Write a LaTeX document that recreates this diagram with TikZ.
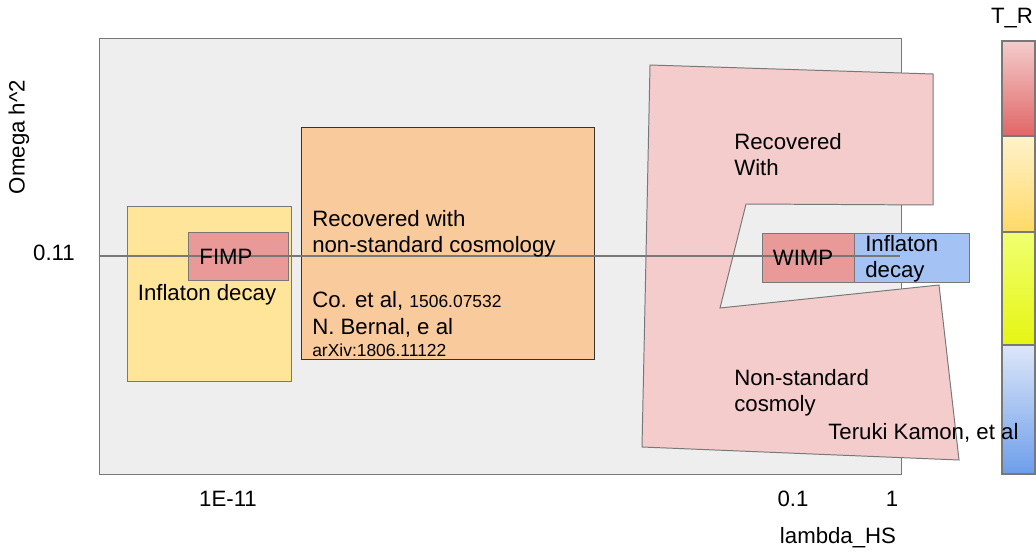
\documentclass[tikz,border=0pt]{standalone}
\usepackage{fontspec}
\setmainfont{Liberation Sans}
\definecolor{panelgray}{RGB}{238, 238, 238}
\definecolor{edgegray}{RGB}{120, 120, 120}
\definecolor{inflyellow}{RGB}{255, 229, 153}
\definecolor{darkpink}{RGB}{234, 153, 153}
\definecolor{peach}{RGB}{249, 203, 156}
\definecolor{lightpink}{RGB}{244, 204, 204}
\definecolor{skyblue}{RGB}{164, 194, 244}
\definecolor{barred}{RGB}{224, 102, 102}
\definecolor{barcream}{RGB}{255, 242, 204}
\definecolor{baryellow}{RGB}{255, 217, 102}
\definecolor{barlime1}{RGB}{240, 255, 112}
\definecolor{barlime2}{RGB}{229, 245, 18}
\definecolor{barblue1}{RGB}{221, 230, 248}
\definecolor{barblue2}{RGB}{109, 158, 235}
\usepackage{tikz}
\usetikzlibrary{positioning}

\tikzset{
  region/.style={draw=edgegray, line width=0.7pt},
  lbl/.style={font=\fontsize{15.8}{18.8}\selectfont, inner sep=0pt, text=black},
  small/.style={font=\fontsize{12.4}{14}\selectfont, inner sep=0pt}
}

\begin{document}
\begin{tikzpicture}[x=0.025cm, y=-0.025cm]
  \useasboundingbox (0,0) rectangle (1036,551);

  % Plot panel
  \draw[region, fill=panelgray] (99,38) rectangle (901,474);

  % FIMP side
  \draw[region, fill=inflyellow] (127,206) rectangle (291,381);
  \draw[region, fill=darkpink] (188,232) rectangle (288,280);
  \draw[draw=black!80, line width=0.7pt, fill=peach] (301,127) rectangle (594,359);

  % WIMP side
  \draw[region, fill=lightpink] (650,65) -- (933,74) -- (933,205) -- (746,204)
    -- (720,308) -- (939,285) -- (959,460) -- (642,447) -- cycle;
  \draw[region, fill=darkpink] (762,233) rectangle (854,282);
  \draw[region, fill=skyblue] (854,233) rectangle (969,282);

  % Omega h^2 = 0.11 line
  \coordinate (lineL) at (99,256);
  \coordinate (lineR) at (900,256);
  \draw[edgegray, line width=0.8pt] (lineL) -- (lineR);

  % Labels inside the regions
  \node[lbl] (fimp) at (226,257) {FIMP};
  \node[lbl] (infl1) at (207,295) {Inflaton decay};
  \node[lbl, anchor=west, align=left] (recov1) at (312,233.5) {Recovered with\\non-standard cosmology};
  \node[lbl, anchor=west, align=left] (refs) at (312,324) {Co. et al, {\fontsize{12.4}{14}\selectfont 1506.07532}\\N. Bernal, e al\\[-3pt]{\fontsize{12.4}{14}\selectfont arXiv:1806.11122}};
  \node[lbl, anchor=west, align=left] (recov2) at (734,154.5) {Recovered\\With};
  \node[lbl] (wimp) at (803,258) {WIMP};
  \node[lbl, anchor=west, align=left] (infl2) at (865,259) {Inflaton\\decay};
  \node[lbl, anchor=west, align=left] (nonstd) at (734,393) {Non-standard\\cosmoly};

  % Axes
  \node[lbl, rotate=90] (ylab) at (19,137) {Omega h\^{}2};
  \node[lbl] (ytick) at (54,253) {0.11};
  \node[lbl] (xtick1) at (228,499) {1E-11};
  \node[lbl] (xtick2) at (793,499) {0.1};
  \node[lbl] (xtick3) at (892,499) {1};
  \node[lbl] (xlab) at (838,538) {lambda\_HS};

  % T_R colour bar
  \node[lbl] (tr) at (1012,18) {T\_R};
  \shade[top color=lightpink, bottom color=barred] (1002,41) rectangle (1035,136);
  \shade[top color=barcream, bottom color=baryellow] (1002,136) rectangle (1035,232);
  \shade[top color=barlime1, bottom color=barlime2] (1002,232) rectangle (1035,345);
  \shade[top color=barblue1, bottom color=barblue2] (1002,345) rectangle (1035,474);
  \foreach \yb in {136, 232, 345}
    \draw[edgegray, line width=1pt] (1002,\yb) -- (1035,\yb);
  \draw[edgegray, line width=1pt] (1002,41) rectangle (1035,474);

  \node[lbl, anchor=west] (kamon) at (828,433) {Teruki Kamon, et al};
\end{tikzpicture}
\end{document}
